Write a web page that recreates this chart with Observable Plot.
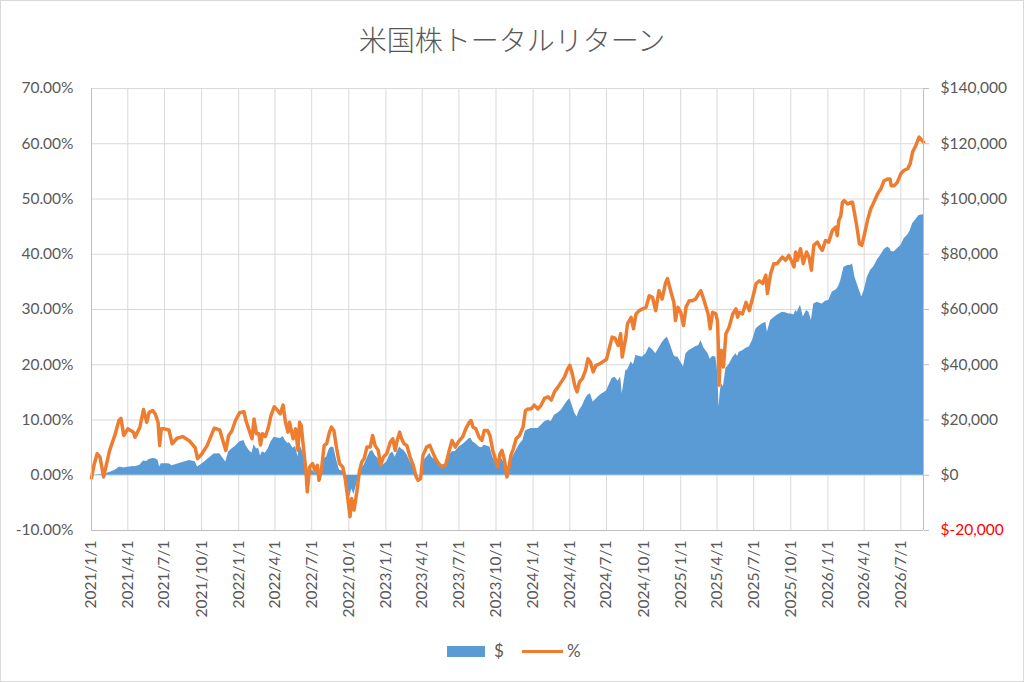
<!DOCTYPE html>
<html>
<head>
<meta charset="utf-8">
<script src="https://cdn.jsdelivr.net/npm/d3@7"></script>
<script src="https://cdn.jsdelivr.net/npm/@observablehq/plot@0.6"></script>
<style>
  body { margin: 0; background: #fff; }
  #wrap { position: relative; width: 1024px; height: 682px; overflow: hidden; background: #fff; }
  #border { position: absolute; left: 0; top: 0; width: 1024px; height: 682px; box-sizing: border-box; border: 1px solid #d9d9d9; pointer-events: none; }
  #title { position: absolute; left: 0; top: 19px; width: 1024px; text-align: center; font-family: "Noto Sans CJK JP", sans-serif; font-weight: 300; font-size: 28px; line-height: 40px; color: #595959; }
  .leg { position: absolute; }
  .legtxt { position: absolute; font-family: Lato, sans-serif; font-size: 17px; line-height: 20px; color: #595959; }
</style>
</head>
<body>
<div id="wrap">
  <div id="chart"></div>
  <div id="title">米国株トータルリターン</div>
  <div class="leg" style="left:447px;top:646px;width:38px;height:11px;background:#5B9BD5;"></div>
  <div class="legtxt" style="left:494px;top:641px;">$</div>
  <div class="leg" style="left:522px;top:650px;width:41px;height:3px;background:#ED7D31;"></div>
  <div class="legtxt" style="left:567px;top:641px;">%</div>
  <div id="border"></div>
</div>
<script>
const dates = [
"2021-01-01","2021-01-08","2021-01-15","2021-01-22","2021-01-31","2021-02-15","2021-03-01","2021-03-10","2021-03-15","2021-03-22",
"2021-04-01","2021-04-15","2021-04-19","2021-05-01","2021-05-10","2021-05-18","2021-05-24","2021-06-02","2021-06-08","2021-06-15",
"2021-06-19","2021-06-23","2021-07-01","2021-07-12","2021-07-20","2021-08-01","2021-08-15","2021-09-01","2021-09-15","2021-09-21",
"2021-10-01","2021-10-15","2021-11-01","2021-11-15","2021-11-30","2021-12-07","2021-12-15","2021-12-24","2022-01-03","2022-01-14",
"2022-01-19","2022-01-27","2022-02-03","2022-02-08","2022-02-14","2022-02-20","2022-02-24","2022-03-01","2022-03-08","2022-03-15",
"2022-03-22","2022-03-30","2022-04-08","2022-04-14","2022-04-21","2022-04-27","2022-05-03","2022-05-07","2022-05-16","2022-05-22",
"2022-05-28","2022-06-01","2022-06-05","2022-06-10","2022-06-17","2022-06-20","2022-06-26","2022-07-03","2022-07-09","2022-07-15",
"2022-07-19","2022-07-25","2022-08-01","2022-08-07","2022-08-14","2022-08-19","2022-08-25","2022-09-01","2022-09-08","2022-09-16",
"2022-09-22","2022-09-28","2022-10-04","2022-10-08","2022-10-14","2022-10-21","2022-10-27","2022-11-02","2022-11-08","2022-11-15",
"2022-11-23","2022-11-29","2022-12-05","2022-12-13","2022-12-19","2022-12-26","2023-01-03","2023-01-12","2023-01-18","2023-01-24",
"2023-01-28","2023-02-04","2023-02-09","2023-02-15","2023-02-22","2023-03-02","2023-03-10","2023-03-17","2023-03-22","2023-03-28",
"2023-04-03","2023-04-12","2023-04-20","2023-04-25","2023-05-04","2023-05-12","2023-05-20","2023-05-29","2023-06-06","2023-06-14",
"2023-06-22","2023-07-02","2023-07-10","2023-07-18","2023-07-27","2023-07-31","2023-08-05","2023-08-12","2023-08-20","2023-08-27",
"2023-09-02","2023-09-10","2023-09-16","2023-09-23","2023-09-29","2023-10-05","2023-10-11","2023-10-16","2023-10-22","2023-10-28",
"2023-11-02","2023-11-07","2023-11-13","2023-11-20","2023-11-28","2023-12-07","2023-12-13","2023-12-19","2023-12-27","2024-01-04",
"2024-01-13","2024-01-21","2024-01-29","2024-02-07","2024-02-15","2024-02-23","2024-03-03","2024-03-11","2024-03-19","2024-03-27",
"2024-04-01","2024-04-07","2024-04-13","2024-04-19","2024-04-25","2024-05-02","2024-05-10","2024-05-16","2024-05-22","2024-05-29",
"2024-06-05","2024-06-15","2024-07-01","2024-07-15","2024-07-22","2024-07-30","2024-08-05","2024-08-09","2024-08-18","2024-08-22",
"2024-08-31","2024-09-06","2024-09-12","2024-09-20","2024-09-28","2024-10-07","2024-10-15","2024-10-23","2024-10-31","2024-11-08",
"2024-11-16","2024-11-24","2024-11-29","2024-12-07","2024-12-15","2024-12-19","2024-12-25","2025-01-01","2025-01-08","2025-01-14",
"2025-01-22","2025-01-30","2025-02-07","2025-02-15","2025-02-20","2025-02-28","2025-03-10","2025-03-15","2025-03-21","2025-03-29",
"2025-04-02","2025-04-04","2025-04-06","2025-04-09","2025-04-12","2025-04-17","2025-04-23","2025-05-01","2025-05-10","2025-05-18",
"2025-05-22","2025-05-26","2025-06-03","2025-06-12","2025-06-20","2025-06-28","2025-07-07","2025-07-15","2025-07-23","2025-07-31",
"2025-08-04","2025-08-12","2025-08-20","2025-08-28","2025-09-10","2025-09-18","2025-09-26","2025-10-02","2025-10-09","2025-10-13",
"2025-10-17","2025-10-25","2025-11-01","2025-11-09","2025-11-15","2025-11-21","2025-11-27","2025-12-06","2025-12-12","2025-12-18",
"2025-12-26","2026-01-03","2026-01-12","2026-01-20","2026-01-24","2026-01-28","2026-02-02","2026-02-06","2026-02-10","2026-02-19",
"2026-02-27","2026-03-03","2026-03-09","2026-03-14","2026-03-20","2026-03-26","2026-04-01","2026-04-09","2026-04-17","2026-04-25",
"2026-05-04","2026-05-12","2026-05-20","2026-05-29","2026-06-04","2026-06-07","2026-06-14","2026-06-22","2026-07-01","2026-07-09",
"2026-07-18","2026-07-24","2026-07-30","2026-08-07","2026-08-15","2026-08-21","2026-08-26"
];

// % total return
const pctValues = [
-0.5,2.1,3.9,3.3,-0.3,4.5,7.5,9.9,10.3,7.2,
8.4,7.8,6.9,8.7,11.9,9.6,11.4,11.7,11.1,9.6,
5.4,8.4,8.4,8.2,5.7,6.7,7.0,6.2,5.0,3.0,
3.8,5.4,8.5,8.2,4.5,7.2,8.0,9.9,11.3,11.5,
9.9,8.1,6.6,10.2,7.5,7.5,5.5,7.5,7.0,8.5,
10.8,12.4,11.7,11.1,12.7,9.6,7.8,9.6,6.6,8.4,
4.5,9.6,9.0,5.4,0.6,-3.0,1.5,2.1,0.9,1.8,
-0.9,0.9,5.4,5.7,7.8,8.7,8.1,4.8,2.1,1.5,
-0.6,-3.9,-7.5,-4.2,-6.3,-3.0,0.6,2.4,3.0,5.1,
5.1,7.2,5.4,4.5,1.8,3.3,3.9,6.0,6.6,4.5,
6.0,7.8,6.6,5.7,5.4,3.3,1.8,-0.3,-0.9,-0.6,
3.6,5.1,5.4,4.5,3.0,2.1,1.5,1.8,4.2,6.3,
5.1,6.3,6.9,8.4,9.6,9.9,8.7,8.4,6.9,6.3,
8.1,8.1,7.2,4.5,3.0,1.5,3.9,4.5,2.7,-0.3,
1.5,3.6,4.8,6.6,7.2,8.7,11.7,12.0,12.0,12.7,
12.0,12.7,13.9,14.2,13.6,15.1,16.0,16.9,17.8,19.3,
19.9,18.4,16.3,15.1,16.9,17.5,19.0,21.1,20.5,18.7,
19.9,20.2,21.0,25.0,24.8,23.5,25.6,21.4,25.0,27.4,
28.6,26.5,29.2,29.8,30.1,30.4,32.5,32.2,29.8,33.4,
31.9,34.7,35.6,33.4,31.3,28.0,30.4,29.5,27.1,30.4,
31.6,31.6,31.9,32.9,33.4,31.6,29.2,26.5,29.5,29.2,
28.0,24.0,16.3,21.0,22.6,19.6,25.6,26.8,29.2,30.1,
28.6,29.5,29.2,31.3,29.8,32.0,34.7,35.2,34.7,36.2,
32.9,36.5,38.3,38.3,39.5,38.9,39.8,38.9,37.7,40.4,
38.9,41.0,38.3,40.4,39.5,37.1,41.6,42.2,41.3,40.7,
42.5,42.2,44.3,44.9,43.4,46.1,47.0,49.4,49.7,49.1,
49.4,49.4,47.0,44.9,41.9,41.6,43.4,46.1,48.2,49.4,
50.9,51.8,53.3,53.6,53.6,52.4,52.4,53.0,54.6,55.2,
55.5,56.4,58.5,59.7,61.2,60.7,60.3
];

// $ gain
const usdValues = [
0,100,200,300,400,1000,1800,2800,2900,2600,
2900,3200,3100,3600,5200,5000,5700,6100,6000,5400,
3000,4200,4200,4200,3400,4000,4600,5300,4900,3000,
4000,5600,7700,7800,4800,8400,9500,10500,12000,12600,
10800,9000,8000,11000,9600,9600,7000,8500,8000,9500,
12000,13800,13500,13200,14000,12500,11500,11800,9800,10500,
6600,10800,10000,7800,500,-3000,1500,1800,800,1500,
-800,900,6000,6600,9600,10200,10000,5400,1800,1500,
-600,-4000,-8000,-5000,-7000,-3000,500,2500,3600,6000,
8500,9000,7200,6000,3000,3800,4800,7800,8400,6500,
8000,10200,9500,9000,7500,5000,3000,0,-300,0,
4800,6500,8000,6500,5400,4500,3600,4200,6600,8500,
8600,10250,11000,12000,13300,13300,12000,11400,10250,10000,
10850,10500,10250,6600,5000,3000,5400,6000,4000,600,
2500,5400,7000,9000,11000,12660,16000,16500,16900,16900,
16900,18000,19300,19900,19500,21700,22500,23500,25300,27000,
27700,25300,22500,21100,23500,25000,27700,29000,29500,26500,
27500,29000,30500,35000,35500,34000,35600,29500,38000,38000,
41000,40000,43400,43000,42800,44000,46400,45500,44000,46000,
48000,49400,50000,47000,43500,42800,42800,41000,39200,44000,
45200,45800,46500,47000,48800,46000,44000,42000,43000,42800,
38000,33000,24700,30000,33000,32000,38600,40000,42500,44000,
43000,44500,45000,46000,46400,48800,53000,54000,54800,55400,
51800,56000,57000,57900,59000,58800,58400,58400,58000,59600,
59000,61500,57300,59600,59000,56000,62000,62600,62300,62000,
63000,63300,66300,67000,67500,68500,70500,73000,75300,75900,
76000,76600,71800,69500,67000,64500,66900,71800,74200,75500,
78000,79600,81500,82600,82000,81000,80800,82000,83200,85600,
87000,88500,91000,92500,94000,94200,94300
];

// axis ticks
const pctTicks = [-10, 0, 10, 20, 30, 40, 50, 60, 70];
const usdTicks = [-20000, 0, 20000, 40000, 60000, 80000, 100000, 120000, 140000];
const quarterTicks = [
"2021-01-01","2021-04-01","2021-07-01","2021-10-01","2022-01-01","2022-04-01","2022-07-01","2022-10-01",
"2023-01-01","2023-04-01","2023-07-01","2023-10-01","2024-01-01","2024-04-01","2024-07-01","2024-10-01",
"2025-01-01","2025-04-01","2025-07-01","2025-10-01","2026-01-01","2026-04-01","2026-07-01"
];

const toDate = s => new Date(s + "T00:00:00Z");
const USD_PER_UNIT = 200000; // $20,000 on the right axis sits at 10% on the left axis
const data = dates.map((d, i) => ({date: toDate(d), pct: pctValues[i] / 100, usd: usdValues[i]}));
const xTicks = quarterTicks.map(toDate);
const yTicks = pctTicks.map(v => v / 100);
const usdPos = usdTicks.filter(v => v >= 0).map(v => v / USD_PER_UNIT);
const usdNeg = usdTicks.filter(v => v < 0).map(v => v / USD_PER_UNIT);

const fmtPct = v => (v < 0 ? "-" : "") + Math.abs(v * 100).toFixed(2) + "%";
const fmtUsd = v => { const n = Math.round(v * USD_PER_UNIT); return "$" + (n < 0 ? "-" : "") + d3.format(",")(Math.abs(n)); };
const fmtDate = d => `${d.getUTCFullYear()}/${d.getUTCMonth() + 1}/${d.getUTCDate()}`;

const x0 = toDate(dates[0]), x1 = toDate(dates[dates.length - 1]);

const chart = Plot.plot({
  width: 1024,
  height: 682,
  marginTop: 88,
  marginBottom: 152,
  marginLeft: 91,
  marginRight: 101,
  style: {fontFamily: "Lato, sans-serif", fontSize: "15px", color: "#595959", background: "transparent"},
  x: {type: "utc", domain: [x0, x1], label: null},
  y: {domain: [-0.1, 0.7], label: null},
  marks: [
    Plot.gridY(yTicks, {stroke: "#d9d9d9", strokeOpacity: 1}),
    Plot.gridX(xTicks, {stroke: "#d9d9d9", strokeOpacity: 1}),
    Plot.areaY(data, {x: "date", y: d => d.usd / USD_PER_UNIT, fill: "#5B9BD5"}),
    Plot.lineY(data, {x: "date", y: "pct", stroke: "#ED7D31", strokeWidth: 3.5, strokeLinejoin: "round"}),
    Plot.ruleX([x0], {stroke: "#bfbfbf"}),
    Plot.ruleX([x1], {stroke: "#bfbfbf"}),
    Plot.ruleY([-0.1], {stroke: "#bfbfbf"}),
    Plot.axisY(yTicks, {anchor: "left", tickSize: 0, tickPadding: 18, tickFormat: fmtPct, fill: "#595959", fontSize: 15.5}),
    Plot.axisY(usdPos, {anchor: "right", tickSize: 5, tickPadding: 12, tickFormat: fmtUsd, stroke: "#bfbfbf", fill: "#595959", fontSize: 15.5}),
    Plot.axisY(usdNeg, {anchor: "right", tickSize: 5, tickPadding: 12, tickFormat: fmtUsd, stroke: "#bfbfbf", fill: "#ff0000", fontSize: 15.5}),
    Plot.axisX(xTicks, {anchor: "bottom", tickSize: 0, tickPadding: 10, tickRotate: -90, tickFormat: fmtDate, fill: "#595959", fontSize: 15.5})
  ]
});
document.getElementById("chart").appendChild(chart);
</script>
</body>
</html>
